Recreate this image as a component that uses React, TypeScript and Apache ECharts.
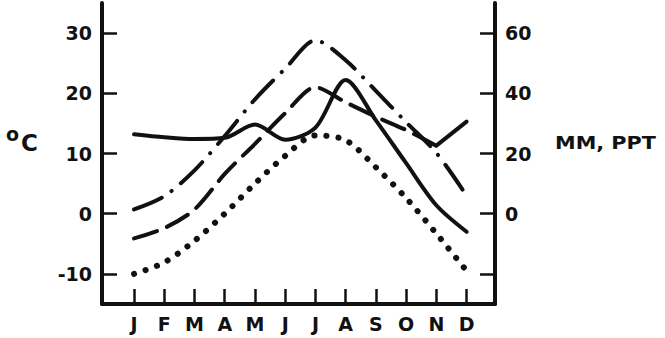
import React, { useEffect, useRef } from "react";
import * as echarts from "echarts";

const months = ["J", "F", "M", "A", "M", "J", "J", "A", "S", "O", "N", "D"];
const monthIndex = [0, 1, 2, 3, 4, 5, 6, 7, 8, 9, 10, 11];
const leftTicks = [-10, 0, 10, 20, 30];
const rightTicks = [-20, 0, 20, 40, 60];
const rightLabels = [0, 20, 40, 60];

const solidLine = [13.2, 12.7, 12.4, 12.6, 14.8, 12.3, 14.3, 22.2, 15.5, 8.4, 1.4, -3.0];
const longDash = [-4.1, -2.4, 0.7, 6.6, 11.6, 16.7, 21.0, 18.5, 16.1, 13.9, 11.3, null];
const solidTail = [null, null, null, null, null, null, null, null, null, null, 11.3, 15.3];
const dashDot = [0.7, 2.9, 7.2, 12.9, 19.0, 24.1, 28.8, 25.5, 20.4, 15.2, 10.1, 3.0];
const dotted = [-10.0, -8.1, -4.5, 0.0, 5.0, 9.6, 13.0, 12.2, 7.7, 2.6, -3.3, -9.5];

const FONT = "DejaVu Sans";
const INK = "#111";

function pairs(vals: (number | null)[]) {
  const out: [number, number][] = [];
  vals.forEach((v, i) => {
    if (v !== null) out.push([monthIndex[i], v]);
  });
  return out;
}

export default function App() {
  const ref = useRef<HTMLDivElement>(null);
  useEffect(() => {
    if (!ref.current) return;
    const chart = echarts.init(ref.current, null, { renderer: "svg" });
    const labelStyle = { fontFamily: FONT, fontWeight: "bold" as const, fontSize: 19, color: INK };
    const lineBase = { color: INK, width: 4, cap: "round" as const, join: "round" as const };
    chart.setOption({
      animation: false,
      backgroundColor: "#fff",
      grid: { left: 102, right: 170, top: 3, bottom: 34, containLabel: false },
      xAxis: {
        type: "value",
        min: -1.06,
        max: 11.94,
        axisLine: { show: true, onZero: false, lineStyle: { color: INK, width: 4 } },
        axisTick: { show: true, inside: true, length: 15, customValues: monthIndex, lineStyle: { color: INK, width: 2.5 } },
        axisLabel: { ...labelStyle, margin: 10, customValues: monthIndex, formatter: (v: number) => months[Math.round(v)] },
        splitLine: { show: false },
      },
      yAxis: [
        {
          type: "value",
          min: -15,
          max: 35,
          position: "left",
          axisLine: { show: true, onZero: false, lineStyle: { color: INK, width: 4 } },
          axisTick: { show: true, inside: true, length: 15, customValues: leftTicks, lineStyle: { color: INK, width: 2.5 } },
          axisLabel: { ...labelStyle, margin: 10, customValues: leftTicks },
          splitLine: { show: false },
        },
        {
          type: "value",
          min: -30,
          max: 70,
          position: "right",
          axisLine: { show: true, onZero: false, lineStyle: { color: INK, width: 4 } },
          axisTick: { show: true, inside: true, length: 15, customValues: rightTicks, lineStyle: { color: INK, width: 2.5 } },
          axisLabel: { ...labelStyle, margin: 10, customValues: rightLabels },
          splitLine: { show: false },
        },
      ],
      series: [
        {
          type: "line",
          name: "solid",
          data: pairs(solidLine),
          smooth: 0.3,
          symbol: "none",
          lineStyle: { ...lineBase, type: "solid" },
        },
        {
          type: "line",
          name: "long dash",
          data: pairs(longDash),
          smooth: 0.3,
          symbol: "none",
          lineStyle: { ...lineBase, type: [24, 11] },
        },
        {
          type: "line",
          name: "solid tail",
          data: pairs(solidTail),
          symbol: "none",
          lineStyle: { ...lineBase, type: "solid" },
        },
        {
          type: "line",
          name: "dash dot",
          data: pairs(dashDot),
          smooth: 0.3,
          symbol: "none",
          lineStyle: { ...lineBase, type: [30, 12, 0.1, 12] },
        },
        {
          type: "line",
          name: "dotted",
          data: pairs(dotted),
          smooth: 0.3,
          symbol: "none",
          lineStyle: { ...lineBase, width: 6, type: [0.1, 12] },
        },
      ],
      graphic: [
        { type: "text", left: 6, top: 124, style: { text: "o", font: `bold 19px "${FONT}"`, fill: INK } },
        { type: "text", left: 21, top: 131, style: { text: "C", font: `bold 23px "${FONT}"`, fill: INK } },
        {
          type: "text",
          x: 555,
          y: 134,
          scaleX: 1.22,
          style: { text: "MM, PPT", font: `bold 17px "${FONT}"`, fill: INK },
        },
      ],
    });
    return () => chart.dispose();
  }, []);
  return (
    <div
      ref={ref}
      style={{ position: "fixed", left: 0, top: 0, width: 665, height: 338, background: "#fff" }}
    />
  );
}
